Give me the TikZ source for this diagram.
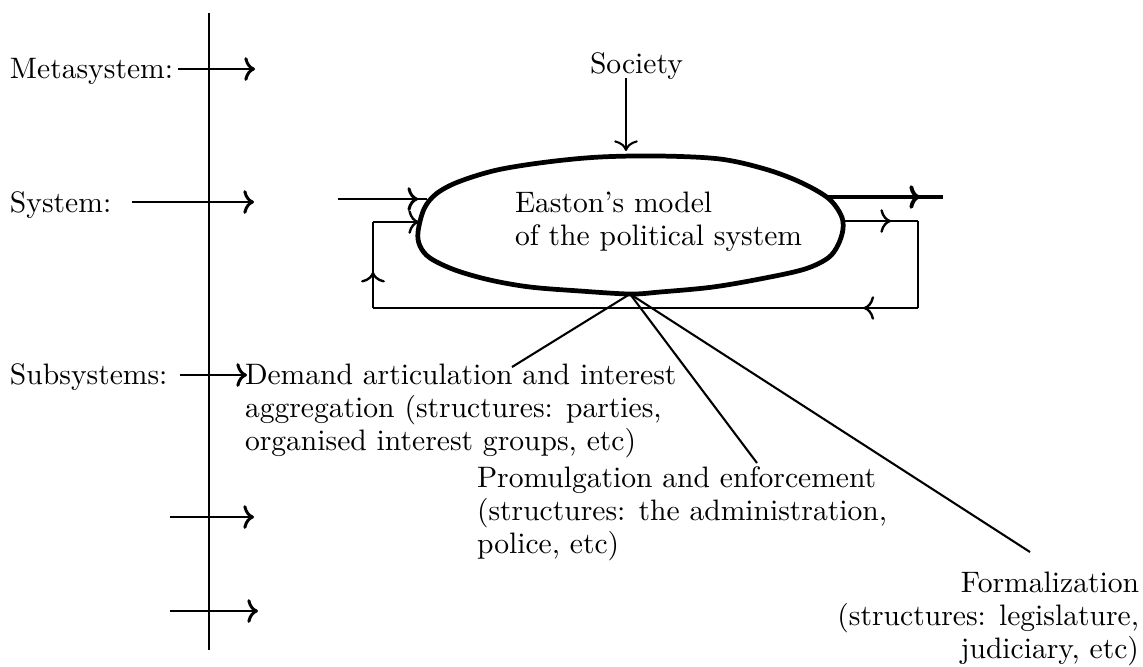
\documentclass[tikz,border=0pt]{standalone}
\usetikzlibrary{arrows.meta,decorations.markings}
\newcommand{\lines}[2]{\begin{tabular}[t]{@{}#1@{}}#2\end{tabular}}
\begin{document}
\begin{tikzpicture}[x=0.338pt,y=-0.338pt,
  >={To[length=3.6pt,width=8pt]},
  every node/.style={inner sep=0pt,outer sep=0pt,font=\fontsize{10}{11.2}\selectfont},
  axisline/.style={line width=0.75pt},
  levelarrow/.style={line width=1pt,->},
  blob/.style={line width=1.6pt,line join=round},
  thinline/.style={line width=0.7pt},
  loopline/.style={line width=0.8pt},
  midtip/.style={postaction={decorate},decoration={markings,mark=at position #1 with {\arrow{>}}}},
]
\useasboundingbox (0,0) rectangle (1143,666);

% level axis
\coordinate (axtop) at (209,13);
\coordinate (axbot) at (209,650);
\draw[axisline] (axtop) -- (axbot);

% level labels and their arrows
\node[anchor=base west] (lmeta) at (10,78) {Metasystem:};
\node[anchor=base west] (lsys)  at (10,212) {System:};
\node[anchor=base west] (lsub)  at (10,384) {Subsystems:};

\coordinate (meta0) at (178,69);  \coordinate (meta1) at (255,69);
\coordinate (sys0)  at (132,202); \coordinate (sys1)  at (254,202);
\coordinate (sub0)  at (180,375); \coordinate (sub1)  at (247,375);
\coordinate (low0)  at (170,517); \coordinate (low1)  at (254,517);
\coordinate (bot0)  at (170,611); \coordinate (bot1)  at (258,611);
\draw[levelarrow] (meta0) -- (meta1);
\draw[levelarrow] (sys0) -- (sys1);
\draw[levelarrow] (sub0) -- (sub1);
\draw[levelarrow] (low0) -- (low1);
\draw[levelarrow] (bot0) -- (bot1);

% the political system
\draw[blob] plot[smooth cycle,tension=0.55] coordinates {
  (418,232) (424,209) (436,194) (458,182) (497,170) (547,162) (600,157)
  (660,156) (720,159) (765,169) (800,182) (828,198) (841,215) (843,229)
  (838,245) (828,258) (805,269) (765,278) (713,287) (660,292) (630,294)
  (580,291) (530,287) (490,280) (455,270) (430,258) (420,246)};
\node[anchor=base west] (easton) at (515,212)
  {\lines{l}{Easton's model\\of the political system}};

\coordinate (eIn)  at (427,199);
\coordinate (eFb)  at (419,222);
\coordinate (eOut) at (828,197);
\coordinate (eRet) at (843,221);
\coordinate (hub)  at (630,294);

% society input
\node[anchor=base west] (soc) at (590,73) {Society};
\coordinate (soc0) at (626,78);
\coordinate (soc1) at (626,151);
\draw[thinline,->] (soc0) -- (soc1);

% input and output
\coordinate (in0)  at (338,199);
\coordinate (out1) at (943,197);
\draw[levelarrow,-,midtip=0.9] (in0) -- (eIn);
\draw[line width=1.3pt,midtip=0.8] (eOut) -- (out1);

% feedback loop
\coordinate (fb1) at (918,221);
\coordinate (fb2) at (918,308);
\coordinate (fb3) at (373,308);
\coordinate (fb4) at (373,222);
\draw[loopline,midtip=0.64] (eRet) -- (fb1);
\draw[loopline] (fb1) -- (fb2);
\draw[loopline,midtip=0.1] (fb2) -- (fb3);
\draw[loopline,midtip=0.42] (fb3) -- (fb4);
\draw[loopline,->] (fb4) -- (eFb);

% subsystem labels
\node[anchor=base west] (demand) at (245,384)
  {\lines{l}{Demand articulation and interest\\aggregation (structures: parties,\\organised interest groups, etc)}};
\node[anchor=base west] (promul) at (477,487)
  {\lines{l}{Promulgation and enforcement\\(structures: the administration,\\police, etc)}};
\node[anchor=base east] (formal) at (1139,592)
  {\lines{r}{Formalization\\(structures: legislature,\\judiciary, etc)}};

\coordinate (dEnd) at (512,367);
\coordinate (pEnd) at (757,463);
\coordinate (fEnd) at (1030,552);
\draw[thinline] (hub) -- (dEnd);
\draw[thinline] (hub) -- (pEnd);
\draw[thinline] (hub) -- (fEnd);
\end{tikzpicture}
\end{document}
